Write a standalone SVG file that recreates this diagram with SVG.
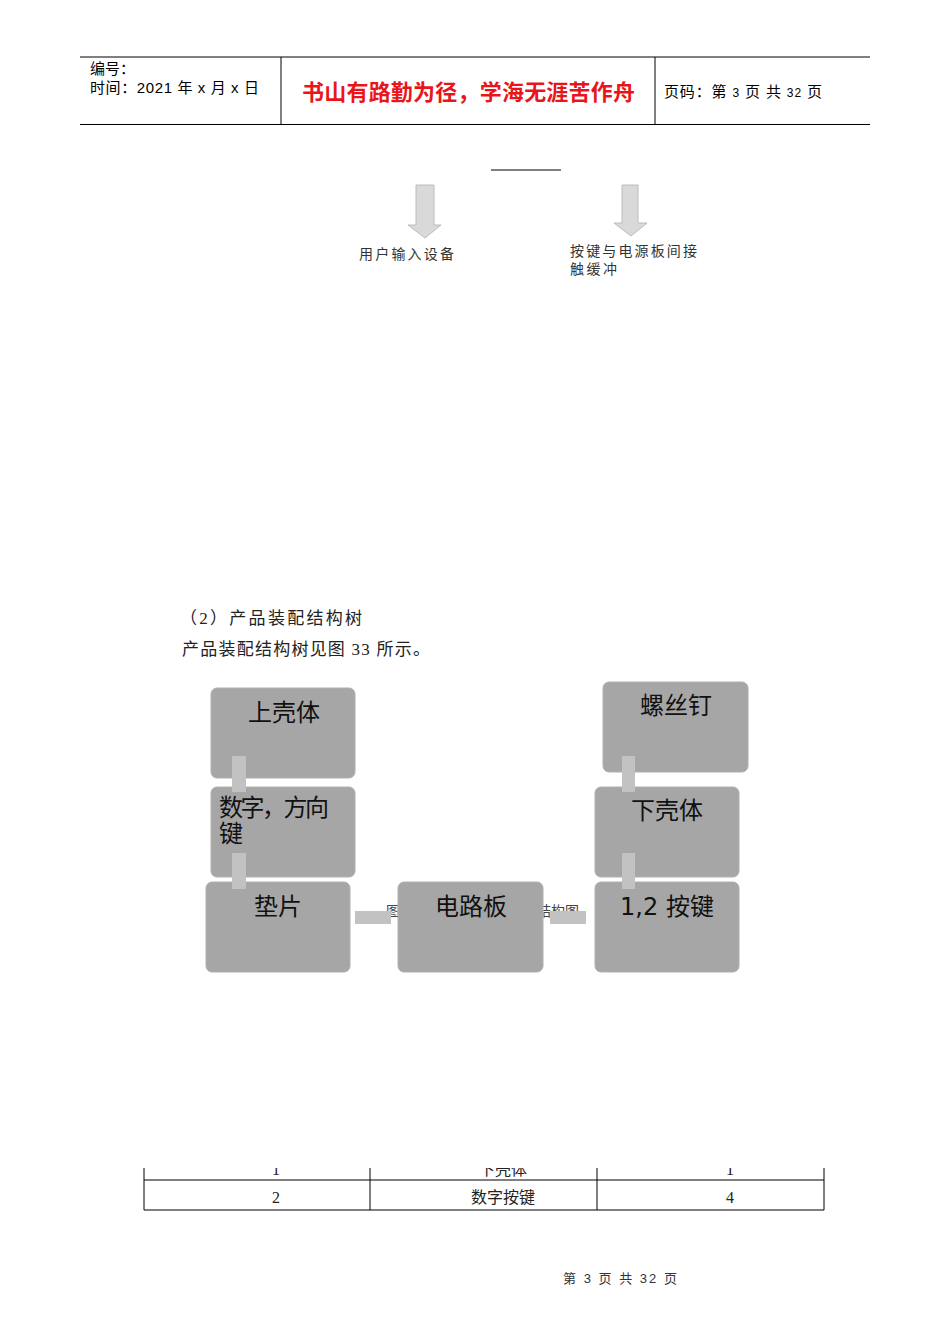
<svg xmlns="http://www.w3.org/2000/svg" width="950" height="1344" viewBox="0 0 950 1344">
<style>
.hd{font-family:"Liberation Sans","Noto Sans CJK SC",sans-serif;font-size:15px;fill:#000}
.body{font-family:"Liberation Serif","Noto Sans CJK SC",serif;fill:#222}
.box{fill:#a6a6a6;stroke:#b0b0b0;stroke-width:1}
.bt{font-family:"DejaVu Sans","Noto Sans CJK SC",sans-serif;font-size:24px;fill:#111}
.cn{fill:#c2c2c2}
.arr{fill:#d9d9d9;stroke:#bcbcbc;stroke-width:1}
.ln{stroke:#000;stroke-width:1}
.cap{font-family:"Noto Sans CJK SC",sans-serif;font-size:14px;fill:#444}
</style>
<defs>
<clipPath id="rowclip"><rect x="140" y="1168" width="690" height="12"/></clipPath>
</defs>
<rect width="950" height="1344" fill="#fff"/>
<g id="header">
<line class="ln" x1="80" y1="57" x2="870" y2="57" stroke="#555"/>
<line class="ln" x1="80" y1="124.5" x2="870" y2="124.5"/>
<line class="ln" x1="281" y1="57" x2="281" y2="124" stroke="#555"/>
<line class="ln" x1="655" y1="57" x2="655" y2="124" stroke="#555"/>
<text class="hd" x="90" y="74">编号：</text>
<text class="hd" x="90" y="93" textLength="169">时间：2021 年 x 月 x 日</text>
<text x="302" y="100" textLength="333" font-family="Liberation Sans,'Noto Sans CJK SC',sans-serif" font-size="22" font-weight="bold" fill="#e8161a">书山有路勤为径，学海无涯苦作舟</text>
<text class="hd" x="664" y="97" textLength="158">页码：第 <tspan font-size="12">3</tspan> 页  共 <tspan font-size="12">32</tspan> 页</text>
</g>
<g id="top-fragment">
<line class="ln" x1="491" y1="170" x2="561" y2="170"/>
<path class="arr" d="M416 185 H434 V225 H441 L425 238 L408 225 H416 Z"/>
<path class="arr" d="M622 185 H638 V223 H647 L631 236 L614 223 H622 Z"/>
<text x="359" y="259" font-size="14" textLength="95" font-family="'Noto Sans CJK SC',sans-serif" fill="#333">用户输入设备</text>
<text x="570" y="256" font-size="14" textLength="127" font-family="'Noto Sans CJK SC',sans-serif" fill="#333">按键与电源板间接</text>
<text x="570" y="274" font-size="14" textLength="47" font-family="'Noto Sans CJK SC',sans-serif" fill="#333">触缓冲</text>
</g>
<g id="section-text">
<text class="body" x="180" y="624" font-size="17" textLength="182">（2）产品装配结构树</text>
<text class="body" x="182" y="655" font-size="17" textLength="248">产品装配结构树见图 33 所示。</text>
</g>
<g id="caption">
<text class="cap" x="386" y="916">图</text>
<text class="cap" x="537" y="916">结构图</text>
</g>
<g id="node-upper-shell"><rect class="box" x="211" y="688" width="144" height="90" rx="6"/><text class="bt" x="284" y="721" text-anchor="middle">上壳体</text></g>
<g id="node-direction-keys"><rect class="box" x="211" y="787" width="144" height="90" rx="6"/><text class="bt" x="219" y="816" font-size="22" textLength="110">数字，方向</text><text class="bt" x="219" y="842" font-size="22">键</text></g>
<g id="node-pad"><rect class="box" x="206" y="882" width="144" height="90" rx="6"/><text class="bt" x="278" y="915" text-anchor="middle">垫片</text></g>
<g id="node-circuit-board"><rect class="box" x="398" y="882" width="145" height="90" rx="6"/><text class="bt" x="471" y="915" text-anchor="middle">电路板</text></g>
<g id="node-keys"><rect class="box" x="595" y="882" width="144" height="90" rx="6"/><text class="bt" x="667" y="915" text-anchor="middle">1,2 按键</text></g>
<g id="node-lower-shell"><rect class="box" x="595" y="787" width="144" height="90" rx="6"/><text class="bt" x="667" y="819" text-anchor="middle">下壳体</text></g>
<g id="node-screw"><rect class="box" x="603" y="682" width="145" height="90" rx="6"/><text class="bt" x="676" y="714" text-anchor="middle">螺丝钉</text></g>
<g id="connectors">
<rect class="cn" x="232" y="756" width="14" height="36"/>
<rect class="cn" x="232" y="853" width="14" height="36"/>
<rect class="cn" x="622" y="756" width="13" height="36"/>
<rect class="cn" x="622" y="853" width="13" height="36"/>
<rect class="cn" x="355" y="911" width="36" height="13"/>
<rect class="cn" x="550" y="911" width="36" height="13"/>
</g>
<g id="table">
<line class="ln" x1="144" y1="1168" x2="144" y2="1210"/>
<line class="ln" x1="370" y1="1168" x2="370" y2="1210"/>
<line class="ln" x1="597" y1="1168" x2="597" y2="1210"/>
<line class="ln" x1="824" y1="1168" x2="824" y2="1210"/>
<line class="ln" x1="144" y1="1180" x2="824" y2="1180"/>
<line class="ln" x1="144" y1="1210" x2="824" y2="1210"/>
<g clip-path="url(#rowclip)" class="body" font-size="16" text-anchor="middle">
<text x="276" y="1175">1</text><text x="503" y="1175">下壳体</text><text x="730" y="1175">1</text>
</g>
<g class="body" font-size="16" text-anchor="middle">
<text x="276" y="1203">2</text><text x="503" y="1203">数字按键</text><text x="730" y="1203">4</text>
</g>
</g>
<g id="footer">
<text x="563" y="1283" textLength="114" font-size="13" font-family="'Liberation Sans','Noto Sans CJK SC',sans-serif" fill="#333">第 3 页 共 32 页</text>
</g>
</svg>
